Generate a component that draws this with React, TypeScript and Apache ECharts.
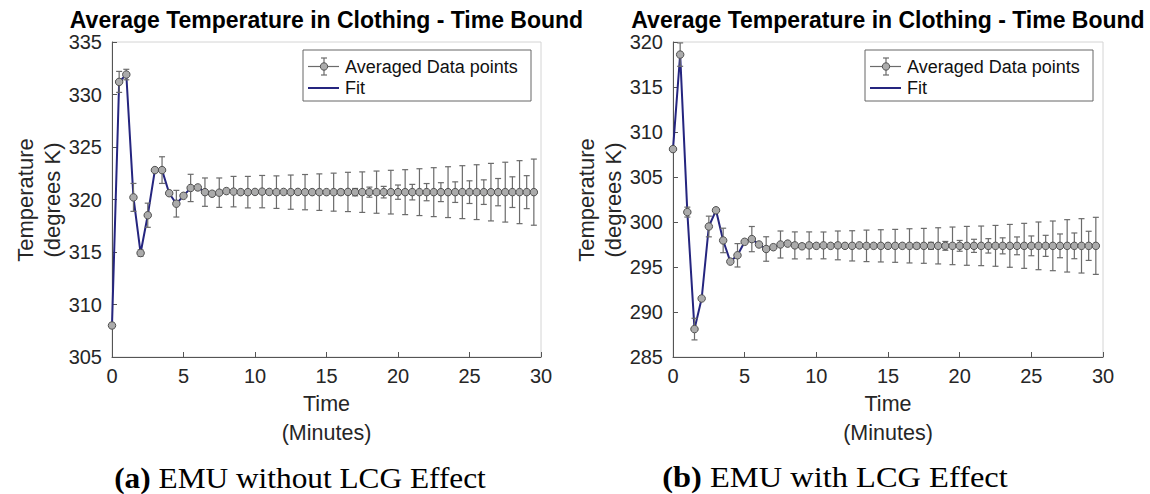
import React, { useEffect, useRef } from "react";
import * as echarts from "echarts";

const TIMES = [
  0, 0.5, 1, 1.5, 2, 2.5, 3, 3.5, 4, 4.5, 5, 5.5, 6, 6.5, 7, 7.5, 8, 8.5, 9, 9.5,
  10, 10.5, 11, 11.5, 12, 12.5, 13, 13.5, 14, 14.5, 15, 15.5, 16, 16.5, 17, 17.5, 18, 18.5, 19, 19.5,
  20, 20.5, 21, 21.5, 22, 22.5, 23, 23.5, 24, 24.5, 25, 25.5, 26, 26.5, 27, 27.5, 28, 28.5, 29, 29.5,
];

const TEMP_A = [
  308.0, 331.2, 331.9, 320.2, 314.9, 318.5, 322.8, 322.8, 320.6, 319.6,
  320.35, 321.1, 321.15, 320.7, 320.55, 320.65, 320.8, 320.75, 320.7, 320.7,
  320.72, 320.75, 320.72, 320.7, 320.72, 320.7, 320.72, 320.7, 320.7, 320.7,
  320.7, 320.7, 320.7, 320.72, 320.7, 320.7, 320.7, 320.7, 320.7, 320.7,
  320.7, 320.7, 320.7, 320.7, 320.7, 320.7, 320.7, 320.7, 320.7, 320.7,
  320.7, 320.7, 320.7, 320.7, 320.7, 320.7, 320.7, 320.7, 320.7, 320.7,
];

const ERR_A = [
  0.2, 1.0, 0.5, 1.33, 0.3, 1.15, 0.15, 1.27, 0.15, 1.27,
  0.15, 1.3, 0.1, 1.35, 0.1, 1.4, 0.1, 1.45, 0.1, 1.5,
  0.1, 1.54, 0.1, 1.55, 0.1, 1.63, 0.1, 1.68, 0.12, 1.74,
  0.15, 1.81, 0.25, 1.87, 0.35, 1.93, 0.48, 2.01, 0.55, 2.08,
  0.68, 2.14, 0.74, 2.23, 0.82, 2.33, 0.9, 2.42, 0.98, 2.52,
  1.08, 2.61, 1.17, 2.74, 1.3, 2.85, 1.46, 3.0, 1.57, 3.15,
];

const TEMP_B = [
  308.1, 318.6, 301.1, 288.1, 291.5, 299.5, 301.3, 297.95, 295.6, 296.3,
  297.8, 298.1, 297.5, 297.0, 297.2, 297.5, 297.6, 297.4, 297.3, 297.4,
  297.35, 297.4, 297.35, 297.4, 297.35, 297.35, 297.4, 297.35, 297.35, 297.35,
  297.35, 297.35, 297.35, 297.35, 297.35, 297.35, 297.35, 297.35, 297.35, 297.35,
  297.35, 297.35, 297.35, 297.35, 297.35, 297.35, 297.35, 297.35, 297.35, 297.35,
  297.35, 297.35, 297.35, 297.35, 297.35, 297.35, 297.35, 297.35, 297.35, 297.35,
];

const ERR_B = [
  0.15, 1.3, 0.55, 1.2, 0.15, 1.15, 0.15, 1.36, 0.15, 1.3,
  0.1, 1.4, 0.1, 1.36, 0.1, 1.5, 0.1, 1.5, 0.1, 1.5,
  0.1, 1.49, 0.1, 1.6, 0.1, 1.68, 0.1, 1.75, 0.12, 1.79,
  0.15, 1.83, 0.2, 1.9, 0.3, 1.94, 0.39, 2.01, 0.49, 2.09,
  0.6, 2.16, 0.73, 2.2, 0.8, 2.27, 0.89, 2.38, 0.99, 2.5,
  1.1, 2.65, 1.17, 2.76, 1.32, 2.91, 1.43, 3.02, 1.62, 3.17,
];

const TITLE = "Average Temperature in Clothing - Time Bound";
const Y_NAME = "Temperature\n(degrees K)";
const X_NAME = "Time\n(Minutes)";
const LEGEND_DATA = "Averaged Data points";
const LEGEND_FIT = "Fit";
const CAPTION_A = ["(a)", "EMU without LCG Effect"];
const CAPTION_B = ["(b)", "EMU with LCG Effect"];
const X_TICKS = { min: 0, max: 30, interval: 5 };
const Y_TICKS_A = { min: 305, max: 335, interval: 5 };
const Y_TICKS_B = { min: 285, max: 320, interval: 5 };

const SANS = "Liberation Sans, Arial, Helvetica, sans-serif";
const SERIF = "Liberation Serif, Times New Roman, serif";
const AXIS_COLOR = "#555555";
const TEXT_COLOR = "#262626";
const FIT_COLOR = "#25257f";
const ERR_COLOR = "#6b6b6b";
const MARKER_FILL = "#ababab";
const MARKER_EDGE = "#505050";

const GRIDS = [
  { left: 112, top: 42, width: 429, height: 315 },
  { left: 673, top: 42, width: 430, height: 315 },
];

function errRender(params: any, api: any) {
  const x = api.value(0);
  const y = api.value(1);
  const e = api.value(2);
  const hi = api.coord([x, y + e]);
  const lo = api.coord([x, y - e]);
  const w = 3;
  const style = { stroke: ERR_COLOR, lineWidth: 1.2 };
  return {
    type: "group",
    children: [
      { type: "line", shape: { x1: hi[0], y1: hi[1], x2: lo[0], y2: lo[1] }, style },
      { type: "line", shape: { x1: hi[0] - w, y1: hi[1], x2: hi[0] + w, y2: hi[1] }, style },
      { type: "line", shape: { x1: lo[0] - w, y1: lo[1], x2: lo[0] + w, y2: lo[1] }, style },
    ],
  };
}

function legendGraphic(x0: number): any[] {
  const y1 = 66.5;
  const y2 = 88;
  const es = { stroke: ERR_COLOR, lineWidth: 1.2 };
  return [
    { type: "rect", shape: { x: x0, y: 50, width: 228, height: 51 }, style: { fill: "#fff", stroke: "#666", lineWidth: 1 }, z: 10 },
    { type: "line", shape: { x1: x0 + 5, y1, x2: x0 + 36, y2: y1 }, style: es, z: 11 },
    { type: "line", shape: { x1: x0 + 21, y1: y1 - 8.5, x2: x0 + 21, y2: y1 + 8.5 }, style: es, z: 11 },
    { type: "line", shape: { x1: x0 + 18, y1: y1 - 8.5, x2: x0 + 24, y2: y1 - 8.5 }, style: es, z: 11 },
    { type: "line", shape: { x1: x0 + 18, y1: y1 + 8.5, x2: x0 + 24, y2: y1 + 8.5 }, style: es, z: 11 },
    { type: "circle", shape: { cx: x0 + 21, cy: y1, r: 3.7 }, style: { fill: MARKER_FILL, stroke: MARKER_EDGE, lineWidth: 1 }, z: 12 },
    { type: "text", x: x0 + 42, y: y1, style: { text: LEGEND_DATA, font: `18px ${SANS}`, fill: "#111", align: "left", verticalAlign: "middle" }, z: 12 },
    { type: "line", shape: { x1: x0 + 5, y1: y2, x2: x0 + 36, y2 }, style: { stroke: FIT_COLOR, lineWidth: 2 }, z: 11 },
    { type: "text", x: x0 + 42, y: y2, style: { text: LEGEND_FIT, font: `18px ${SANS}`, fill: "#111", align: "left", verticalAlign: "middle" }, z: 12 },
  ];
}

function panelGraphic(g: { left: number; width: number }, yNameX: number, caption: string[], capX: number, capScale: number): any[] {
  const cx = g.left + g.width / 2;
  return [
    {
      type: "text", x: cx, y: 19.5,
      style: { text: TITLE, font: `bold 23px ${SANS}`, fill: "#000", align: "center", verticalAlign: "middle", lineHeight: 19 },
    },
    {
      type: "text", x: yNameX, y: 200, rotation: Math.PI / 2,
      style: { text: Y_NAME, font: `22px ${SANS}`, fill: TEXT_COLOR, align: "center", verticalAlign: "middle", lineHeight: 27 },
    },
    {
      type: "text", x: cx, y: 418.5,
      style: { text: X_NAME, font: `21.5px ${SANS}`, fill: TEXT_COLOR, align: "center", verticalAlign: "middle", lineHeight: 29 },
    },
    {
      type: "text", x: capX, y: 478, scaleX: capScale,
      style: {
        text: `{b|${caption[0]}} ${caption[1]}`,
        font: `29px ${SERIF}`, fill: "#000", align: "center", verticalAlign: "middle",
        rich: { b: { fontFamily: SERIF, fontSize: 29, fontWeight: "bold", fill: "#000" } },
      },
    },
  ];
}

function makeAxisX(gridIndex: number) {
  return {
    gridIndex, type: "value", ...X_TICKS,
    axisLine: { show: true, onZero: false, lineStyle: { color: AXIS_COLOR, width: 1 } },
    axisTick: { show: true, inside: true, length: 5, lineStyle: { color: AXIS_COLOR } },
    axisLabel: { fontSize: 20, color: TEXT_COLOR, fontFamily: SANS, margin: 9 },
    splitLine: { show: false },
  };
}
function makeAxisY(gridIndex: number, ticks: any) {
  return {
    gridIndex, type: "value", ...ticks,
    axisLine: { show: true, onZero: false, lineStyle: { color: AXIS_COLOR, width: 1 } },
    axisTick: { show: true, inside: true, length: 5, lineStyle: { color: AXIS_COLOR } },
    axisLabel: { fontSize: 20, color: TEXT_COLOR, fontFamily: SANS, margin: 10 },
    splitLine: { show: false },
  };
}

function seriesFor(idx: number, vals: number[], errs: number[]) {
  const pts = TIMES.map((t, i) => [t, vals[i]]);
  const ebs = TIMES.map((t, i) => [t, vals[i], errs[i]]);
  return [
    {
      type: "line", xAxisIndex: idx, yAxisIndex: idx, data: pts, showSymbol: false, symbol: "none",
      lineStyle: { color: FIT_COLOR, width: 2 }, z: 2, silent: true,
    },
    {
      type: "custom", xAxisIndex: idx, yAxisIndex: idx, data: ebs, renderItem: errRender,
      encode: { x: 0, y: 1 }, z: 3, silent: true,
    },
    {
      type: "scatter", xAxisIndex: idx, yAxisIndex: idx, data: pts, symbol: "circle", symbolSize: 7.5,
      itemStyle: { color: MARKER_FILL, borderColor: MARKER_EDGE, borderWidth: 1, opacity: 1 }, z: 4, silent: true,
    },
  ];
}

export default function App() {
  const ref = useRef<HTMLDivElement>(null);
  useEffect(() => {
    if (!ref.current) return;
    const chart = echarts.init(ref.current, null, { renderer: "svg" });
    chart.setOption({
      animation: false,
      backgroundColor: "#ffffff",
      grid: GRIDS.map((g) => ({ ...g, show: true, borderColor: "#d4d4d4", borderWidth: 1, backgroundColor: "transparent" })),
      xAxis: [makeAxisX(0), makeAxisX(1)],
      yAxis: [makeAxisY(0, Y_TICKS_A), makeAxisY(1, Y_TICKS_B)],
      series: [...seriesFor(0, TEMP_A, ERR_A), ...seriesFor(1, TEMP_B, ERR_B)],
      graphic: {
        elements: [
          ...panelGraphic(GRIDS[0], 38.5, CAPTION_A, 300, 1.08),
          ...panelGraphic(GRIDS[1], 600, CAPTION_B, 835, 1.12),
          ...legendGraphic(303),
          ...legendGraphic(865),
        ],
      },
    });
    return () => chart.dispose();
  }, []);
  return <div ref={ref} style={{ position: "fixed", left: 0, top: 0, width: 1150, height: 494, background: "#fff" }} />;
}
